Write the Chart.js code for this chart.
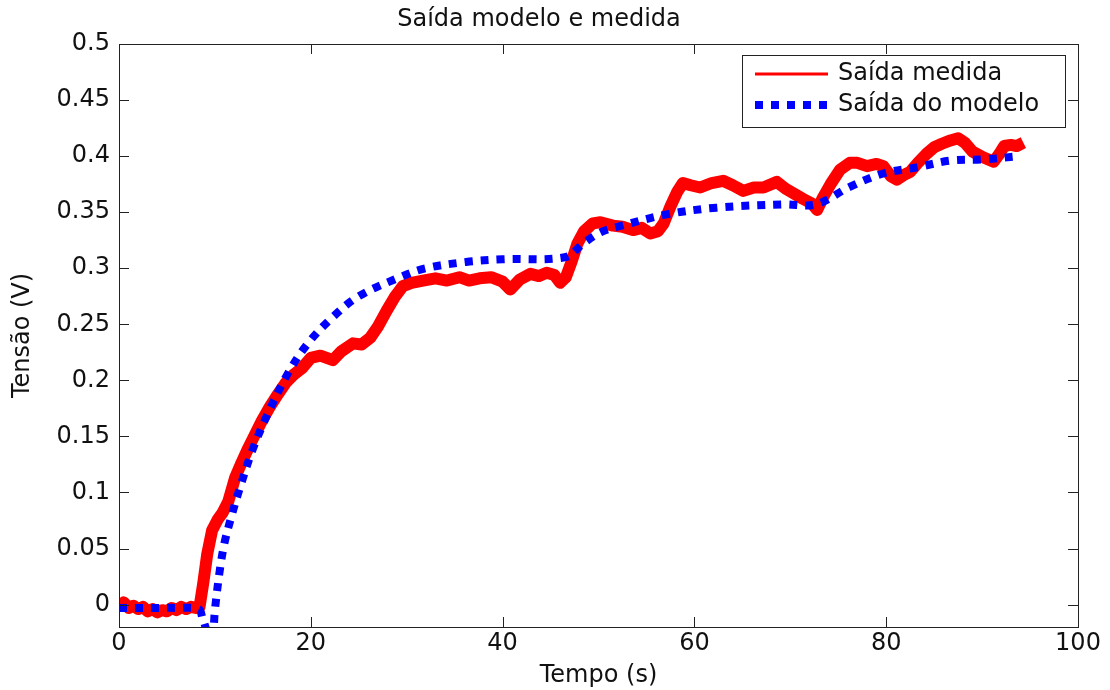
<!DOCTYPE html>
<html>
<head>
<meta charset="utf-8">
<script src="https://cdn.jsdelivr.net/npm/chart.js@4"></script>
<style>
  body { margin: 0; background: #fff; }
</style>
</head>
<body>
<canvas id="graph" width="1110" height="690"></canvas>
<script>
const titleText = 'Saída modelo e medida';
const xTitle = 'Tempo (s)';
const yTitle = 'Tensão (V)';

const xTicks = [0, 20, 40, 60, 80, 100];
const yTicks = [0, 0.05, 0.1, 0.15, 0.2, 0.25, 0.3, 0.35, 0.4, 0.45, 0.5];

const measuredT = [0, 0.5, 1, 1.5, 2, 2.5, 3, 3.5, 4, 4.5, 5, 5.5, 6, 6.5, 7, 7.5, 8, 8.4,
  8.8, 9.2, 9.7, 10.3, 10.8, 11.4, 12.1, 12.8, 13.5, 14.2, 14.9, 15.7, 16.6, 17.4, 18.2, 19.1,
  20, 21, 22.3, 23.2, 24.4, 25.3, 26.2, 27, 27.9, 28.8, 29.6, 30.5, 31.7, 33, 34.2, 35.5, 36.5,
  37.6, 38.8, 40, 40.8, 41.8, 42.9, 43.8, 44.6, 45.4, 46, 46.6, 47.2, 47.8, 48.5, 49.4, 50.2,
  51.5, 52.5, 53.6, 54.5, 55.4, 56.2, 56.8, 57.5, 58.2, 58.8, 59.6, 60.6, 61.8, 63, 64, 65.1,
  66.2, 67.2, 68.6, 69.5, 70.3, 71.3, 72.2, 72.8, 73.4, 74.2, 75.2, 76.2, 77, 78, 79, 79.7,
  80.5, 81.1, 81.8, 82.5, 83.3, 84.2, 85, 85.8, 86.7, 87.5, 88.2, 89, 90.1, 91.2, 91.8, 92.3,
  93, 93.6, 94.3];
const measuredV = [-0.001, 0.002, -0.003, -0.001, -0.004, -0.002, -0.006, -0.004, -0.007, -0.005,
  -0.006, -0.003, -0.005, -0.002, -0.004, -0.002, -0.003, -0.002,
  0.02, 0.045, 0.066, 0.076, 0.082, 0.092, 0.113, 0.127, 0.14, 0.152, 0.164, 0.176, 0.188, 0.198,
  0.205, 0.211, 0.22, 0.222, 0.218, 0.226, 0.233, 0.232, 0.238, 0.248, 0.262, 0.275, 0.284,
  0.287, 0.289, 0.291, 0.289, 0.292, 0.289, 0.291, 0.292, 0.288, 0.281, 0.29, 0.295, 0.293,
  0.296, 0.294, 0.287, 0.292, 0.306, 0.322, 0.333, 0.34, 0.341, 0.338, 0.337, 0.334, 0.336,
  0.331, 0.333, 0.34, 0.355, 0.368, 0.376, 0.374, 0.372, 0.376, 0.378, 0.374, 0.369, 0.372,
  0.372, 0.377, 0.371, 0.367, 0.362, 0.358, 0.352, 0.363, 0.375, 0.388, 0.394, 0.394, 0.391,
  0.393, 0.391, 0.382, 0.379, 0.383, 0.386, 0.394, 0.402, 0.408, 0.411, 0.414, 0.416, 0.412,
  0.404, 0.399, 0.395, 0.402, 0.409, 0.41, 0.409, 0.412];

// model output
const modelT = [0, 2, 4, 6, 8.3, 8.7, 9.5, 9.8, 10, 10.5, 11, 11.8, 12.6, 13.9, 15.5, 17.6, 19.7,
  22.3, 25, 29.3, 32, 36.2, 40, 46.6, 48.4, 50.2, 52, 57.1, 62.3, 69.3, 72.7, 76.2, 79.7, 83.2,
  86.7, 90.1, 94];
const modelV = [-0.003, -0.003, -0.003, -0.003, -0.004, -0.012, -0.03, -0.025, -0.005, 0.03,
  0.055, 0.081, 0.104, 0.1375, 0.17, 0.206, 0.233, 0.2565, 0.275, 0.292, 0.3, 0.3056, 0.308,
  0.31, 0.322, 0.332, 0.337, 0.348, 0.354, 0.357, 0.357, 0.3726, 0.3845, 0.39, 0.396, 0.397, 0.4];

const labels = ['Saída medida', 'Saída do modelo'];

const FONT = 'DejaVu Sans';
const SIZE = 24;
const ink = '#111';

const frame = {
  id: 'frame',
  afterDatasetsDraw(chart) {
    const { ctx, chartArea: a, scales } = chart;
    ctx.save();
    ctx.strokeStyle = '#222';
    ctx.lineWidth = 1;
    ctx.beginPath();
    xTicks.forEach(v => {
      const x = Math.round(scales.x.getPixelForValue(v)) + 0.5;
      ctx.moveTo(x, a.bottom); ctx.lineTo(x, a.bottom - 10);
      ctx.moveTo(x, a.top); ctx.lineTo(x, a.top + 10);
    });
    yTicks.forEach(v => {
      const y = Math.round(scales.y.getPixelForValue(v)) + 0.5;
      ctx.moveTo(a.left, y); ctx.lineTo(a.left + 10, y);
      ctx.moveTo(a.right, y); ctx.lineTo(a.right - 10, y);
    });
    ctx.stroke();
    ctx.strokeRect(Math.round(a.left) + 0.5, Math.round(a.top) + 0.5,
      Math.round(a.right - a.left), Math.round(a.bottom - a.top));

    // legend box
    const w = 323, h = 72;
    const bx = Math.round(a.right) - 13 - w, by = Math.round(a.top) + 11;
    ctx.fillStyle = '#fff';
    ctx.fillRect(bx, by, w, h);
    ctx.strokeStyle = '#222';
    ctx.strokeRect(bx + 0.5, by + 0.5, w, h);
    ctx.font = SIZE + 'px "' + FONT + '"';
    ctx.textBaseline = 'middle';
    chart.data.datasets.forEach((ds, i) => {
      const y = by + 19 + i * 31;
      ctx.strokeStyle = ds.borderColor;
      ctx.lineWidth = i === 0 ? 3 : 8;
      ctx.setLineDash(ds.borderDash || []);
      ctx.beginPath();
      ctx.moveTo(bx + 13, y); ctx.lineTo(bx + 86, y);
      ctx.stroke();
      ctx.setLineDash([]);
      ctx.fillStyle = ink;
      ctx.fillText(ds.label, bx + 96, y);
    });
    ctx.restore();
  }
};

new Chart(document.getElementById('graph'), {
  type: 'line',
  data: {
    datasets: [
      {
        label: labels[0],
        data: measuredT.map((t, i) => ({ x: t, y: measuredV[i] })),
        borderColor: '#ff0000',
        borderWidth: 12,
        borderJoinStyle: 'round',
        pointRadius: 0,
        tension: 0,
        order: 1
      },
      {
        label: labels[1],
        data: modelT.map((t, i) => ({ x: t, y: modelV[i] })),
        borderColor: '#0000ff',
        borderWidth: 8,
        borderDash: [8, 8],
        borderCapStyle: 'butt',
        pointRadius: 0,
        tension: 0.35,
        order: 0
      }
    ]
  },
  options: {
    responsive: false,
    animation: false,
    layout: { padding: { left: 0, right: 32, top: 0, bottom: 0 } },
    plugins: {
      legend: { display: false },
      tooltip: { enabled: false },
      title: {
        display: true,
        text: titleText,
        color: ink,
        font: { family: FONT, size: SIZE, weight: 'normal' },
        padding: { top: 5, bottom: 10.2 }
      }
    },
    scales: {
      x: {
        type: 'linear',
        min: 0,
        max: 100,
        afterBuildTicks: s => { s.ticks = xTicks.map(v => ({ value: v })); },
        afterFit: s => { s.height = 63; },
        grid: { display: false, drawTicks: false },
        border: { display: false },
        ticks: { color: ink, padding: 2, maxRotation: 0, font: { family: FONT, size: SIZE } },
        title: { display: true, text: xTitle, color: ink, padding: { top: 0, bottom: 0 },
          font: { family: FONT, size: SIZE } }
      },
      y: {
        type: 'linear',
        min: -0.02,
        max: 0.5,
        afterBuildTicks: s => { s.ticks = yTicks.map(v => ({ value: v })); },
        afterFit: s => { s.width = 119; },
        grid: { display: false, drawTicks: false },
        border: { display: false },
        ticks: { color: ink, padding: 9, font: { family: FONT, size: SIZE },
          callback: v => String(+v.toFixed(2)) },
        title: { display: true, text: yTitle, color: ink, padding: { top: 8, bottom: 0 },
          font: { family: FONT, size: SIZE } }
      }
    }
  },
  plugins: [frame]
});
</script>
</body>
</html>
